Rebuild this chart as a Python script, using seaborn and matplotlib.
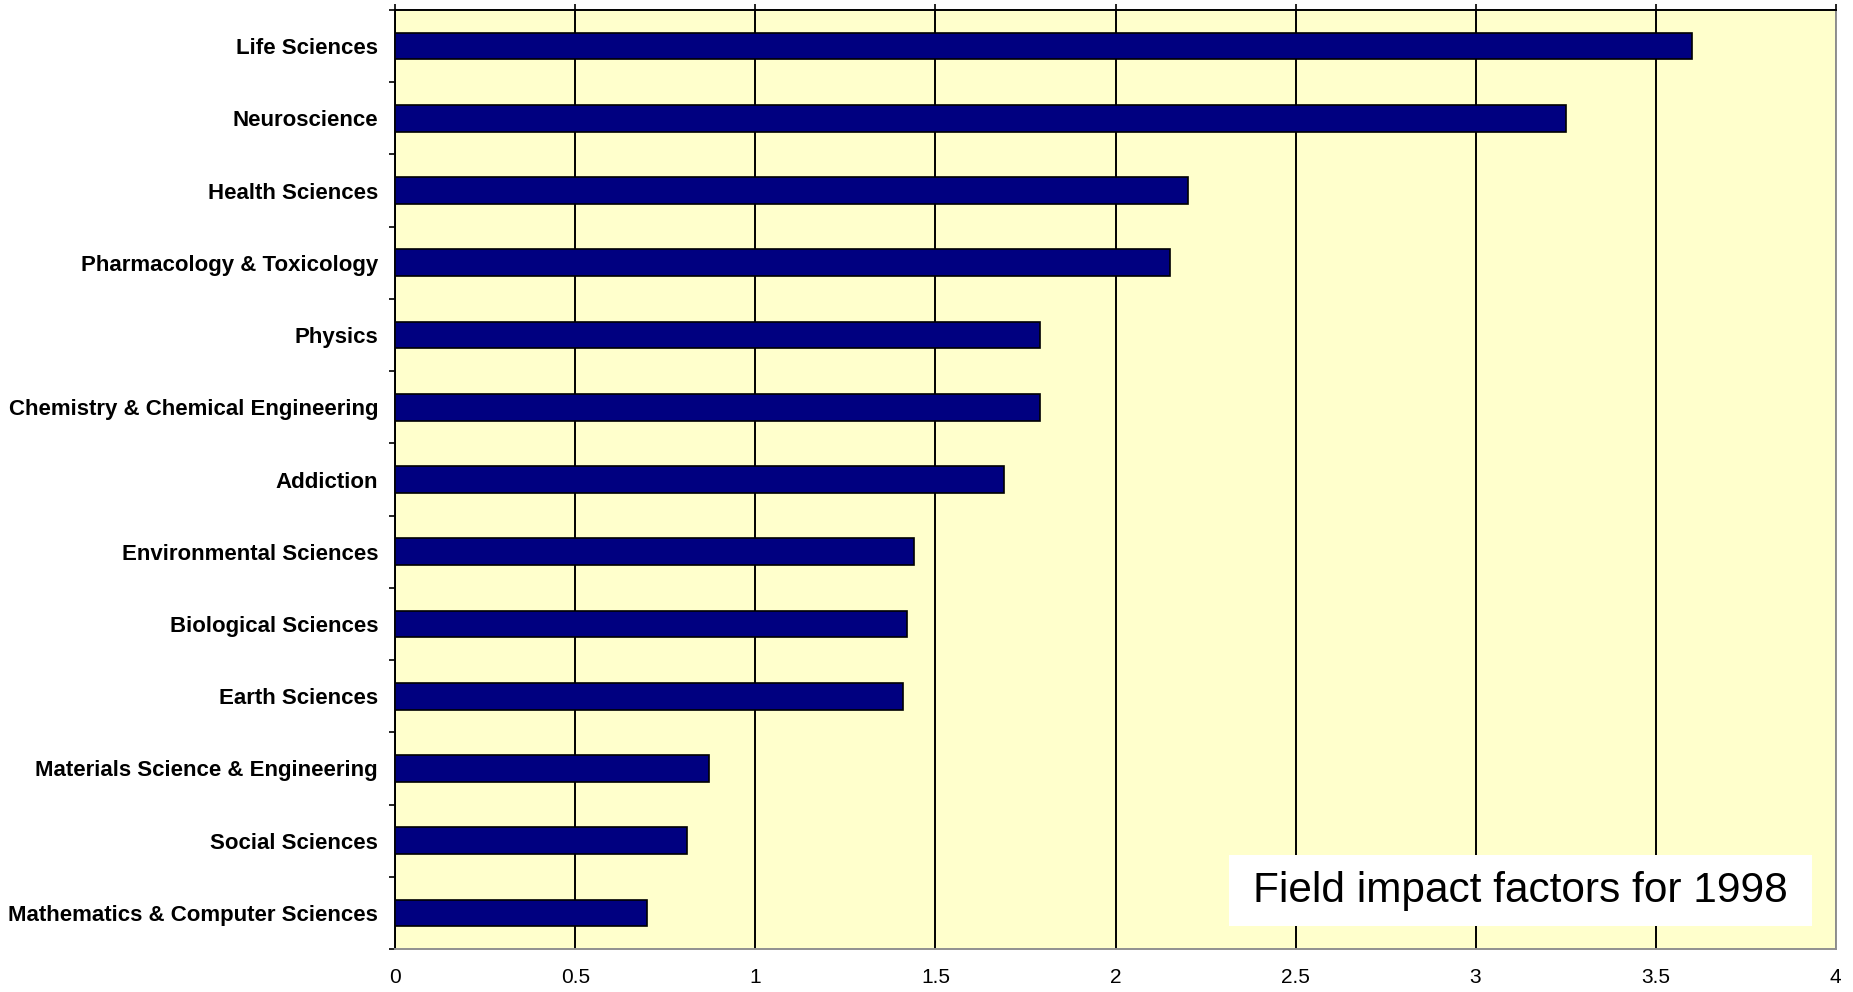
import pandas as pd
import seaborn as sns
from matplotlib import pyplot as plt
from matplotlib.patches import Rectangle
from matplotlib.ticker import MultipleLocator

# field impact factors, 1998
fields = ['Life Sciences', 'Neuroscience', 'Health Sciences', 'Pharmacology & Toxicology',
          'Physics', 'Chemistry & Chemical Engineering', 'Addiction', 'Environmental Sciences',
          'Biological Sciences', 'Earth Sciences', 'Materials Science & Engineering',
          'Social Sciences', 'Mathematics & Computer Sciences']
impact = [3.60, 3.25, 2.20, 2.15, 1.79, 1.79, 1.69, 1.44, 1.42, 1.41, 0.87, 0.81, 0.70]
x_ticks = [0, 0.5, 1, 1.5, 2, 2.5, 3, 3.5, 4]
x_labels = ['0', '0.5', '1', '1.5', '2', '2.5', '3', '3.5', '4']
caption = 'Field impact factors for 1998'

data = pd.DataFrame({'Field': fields, 'Impact': impact})

sns.set_style('white')
plt.rcParams['font.family'] = ['Liberation Sans', 'DejaVu Sans']
plt.rcParams['text.color'] = 'black'
plt.rcParams['xtick.labelcolor'] = 'black'
plt.rcParams['ytick.labelcolor'] = 'black'

fig = plt.figure(figsize=(18.53, 9.92), dpi=100)
ax = fig.add_axes([0.2134, 0.0433, 0.7772, 0.9466])
ax.set_facecolor('#FFFFCC')

sns.barplot(data=data, x='Impact', y='Field', orient='h', color='#000080', saturation=1,
            width=0.37, edgecolor='black', linewidth=1.2, ax=ax, zorder=4)

ax.set_xlim(0, 4)
ax.set_ylim(len(fields) - 0.5, -0.5)
ax.set_xticks(x_ticks)
ax.set_xticklabels(x_labels, fontsize=15, color='black')
ax.set_yticks(range(len(fields)))
ax.set_yticklabels(fields, fontsize=16, fontweight='bold', color='black')
ax.set_xlabel('')
ax.set_ylabel('')

# ticks between categories, like the spreadsheet original
ax.yaxis.set_minor_locator(MultipleLocator(1, offset=0.5))
ax.tick_params(axis='y', which='major', length=0, pad=12.5)
ax.tick_params(axis='y', which='minor', length=4, width=1.2, color='black', left=True, direction='out')
ax.tick_params(axis='x', which='major', length=4, width=1.2, color='black', bottom=False, top=True,
               labelbottom=True, labeltop=False, pad=10, direction='out')

ax.set_axisbelow(True)
ax.grid(axis='x', color='black', linewidth=1.4)
ax.grid(axis='y', visible=False)

for side in ['left', 'top']:
    ax.spines[side].set_color('black')
    ax.spines[side].set_linewidth(1.4)
for side in ['bottom', 'right']:
    ax.spines[side].set_color('#909090')
    ax.spines[side].set_linewidth(1.4)

ax.add_patch(Rectangle((0.5788, 0.0245), 0.4049, 0.0756, transform=ax.transAxes,
                       facecolor='white', edgecolor='none', zorder=5))
ax.text(0.781, 0.0623, caption, transform=ax.transAxes, ha='center', va='center',
        fontsize=30.5, color='black', family=['Liberation Sans', 'DejaVu Sans'], zorder=6)

plt.savefig('out.png', dpi=100)
